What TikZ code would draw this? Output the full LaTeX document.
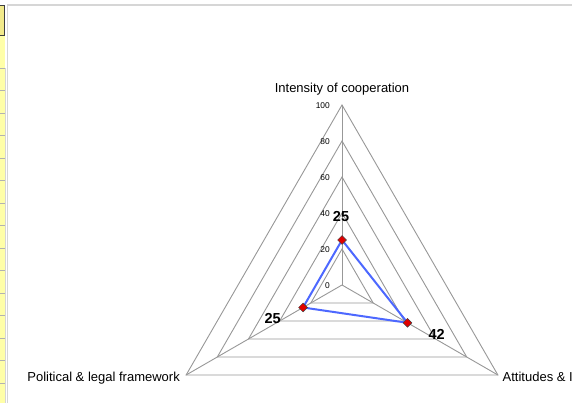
\documentclass[tikz,border=0pt]{standalone}
\usepackage{fontspec}
\setmainfont{Liberation Sans}
\usetikzlibrary{shapes.geometric}
\definecolor{gridgray}{HTML}{989898}
\definecolor{framegray}{HTML}{D6D6D6}
\definecolor{serieblue}{HTML}{4D68FF}
\definecolor{markred}{HTML}{E00000}
\definecolor{cellyellow}{HTML}{FFFFA8}
\definecolor{celldark}{HTML}{F2EA8A}
\begin{document}
\begin{tikzpicture}[x=1pt,y=1pt,
  gridline/.style={draw=gridgray,line width=0.9pt},
  serie/.style={draw=serieblue,line width=2pt,line join=round},
  datamark/.style={diamond,draw=black!75,fill=markred,line width=0.5pt,inner sep=0pt,minimum size=9pt},
  ticklabel/.style={font=\fontsize{8.4}{9}\selectfont,anchor=east,inner sep=0pt},
  catlabel/.style={font=\fontsize{13}{14}\selectfont,inner sep=0pt},
  vallabel/.style={font=\fontsize{14.5}{16}\bfseries\selectfont,inner sep=0pt},
]
\useasboundingbox (0,0) rectangle (572,403);
\fill[white] (0,0) rectangle (572,403);

% spreadsheet column strip on the left
\fill[cellyellow] (0,0) rectangle (4.6,368);
\draw[fill=celldark,draw=black!75,line width=0.8pt] (-1,367.5) rectangle (4,398);
\foreach \k in {0,...,15}
  \draw[black!30,line width=0.8pt] (0,{334.7-22.5*\k}) -- (4.6,{334.7-22.5*\k});
\draw[framegray,line width=0.6pt] (4.8,0) -- (4.8,335);

% chart frame
\draw[framegray,line width=1.5pt] (7.5,-2) -- (7.5,398) -- (574,398);

\begin{scope}[shift={(342,118)}]
  \coordinate (c) at (0,0);
  % rings at 20, 40, ..., 100
  \foreach \v in {20,40,60,80,100}
    \draw[gridline] (90:{1.8*\v}) -- (-30:{1.8*\v}) -- (210:{1.8*\v}) -- cycle;
  % spokes
  \coordinate (axA) at (90:180);
  \coordinate (axB) at (-30:180);
  \coordinate (axC) at (210:180);
  \draw[gridline] (c) -- (axA);
  \draw[gridline] (c) -- (axB);
  \draw[gridline] (c) -- (axC);

  % scale labels
  \foreach \v in {0,20,40,60,80,100}
    \node[ticklabel] (t\v) at (-12,{1.8*\v-0.3}) {\v};

  % category labels
  \node[catlabel] (catA) at (0,196) {Intensity of cooperation};
  \node[catlabel,anchor=east] (catC) at (-162,-93) {Political \& legal framework};
  \node[catlabel,anchor=west] (catB) at (160.5,-92) {Attitudes \& I};

  % data series
  \coordinate (pA) at (90:45);
  \coordinate (pB) at (-30:75.6);
  \coordinate (pC) at (210:45);
  \draw[serie] (pA) -- (pB) -- (pC) -- cycle;
  \node[datamark] (mA) at (pA) {};
  \node[datamark] (mB) at (pB) {};
  \node[datamark] (mC) at (pC) {};

  % value labels
  \node[vallabel] (vA) at (-1,68) {25};
  \node[vallabel] (vC) at (-69.3,-33.3) {25};
  \node[vallabel] (vB) at (94.7,-49) {42};
\end{scope}
\end{tikzpicture}
\end{document}
